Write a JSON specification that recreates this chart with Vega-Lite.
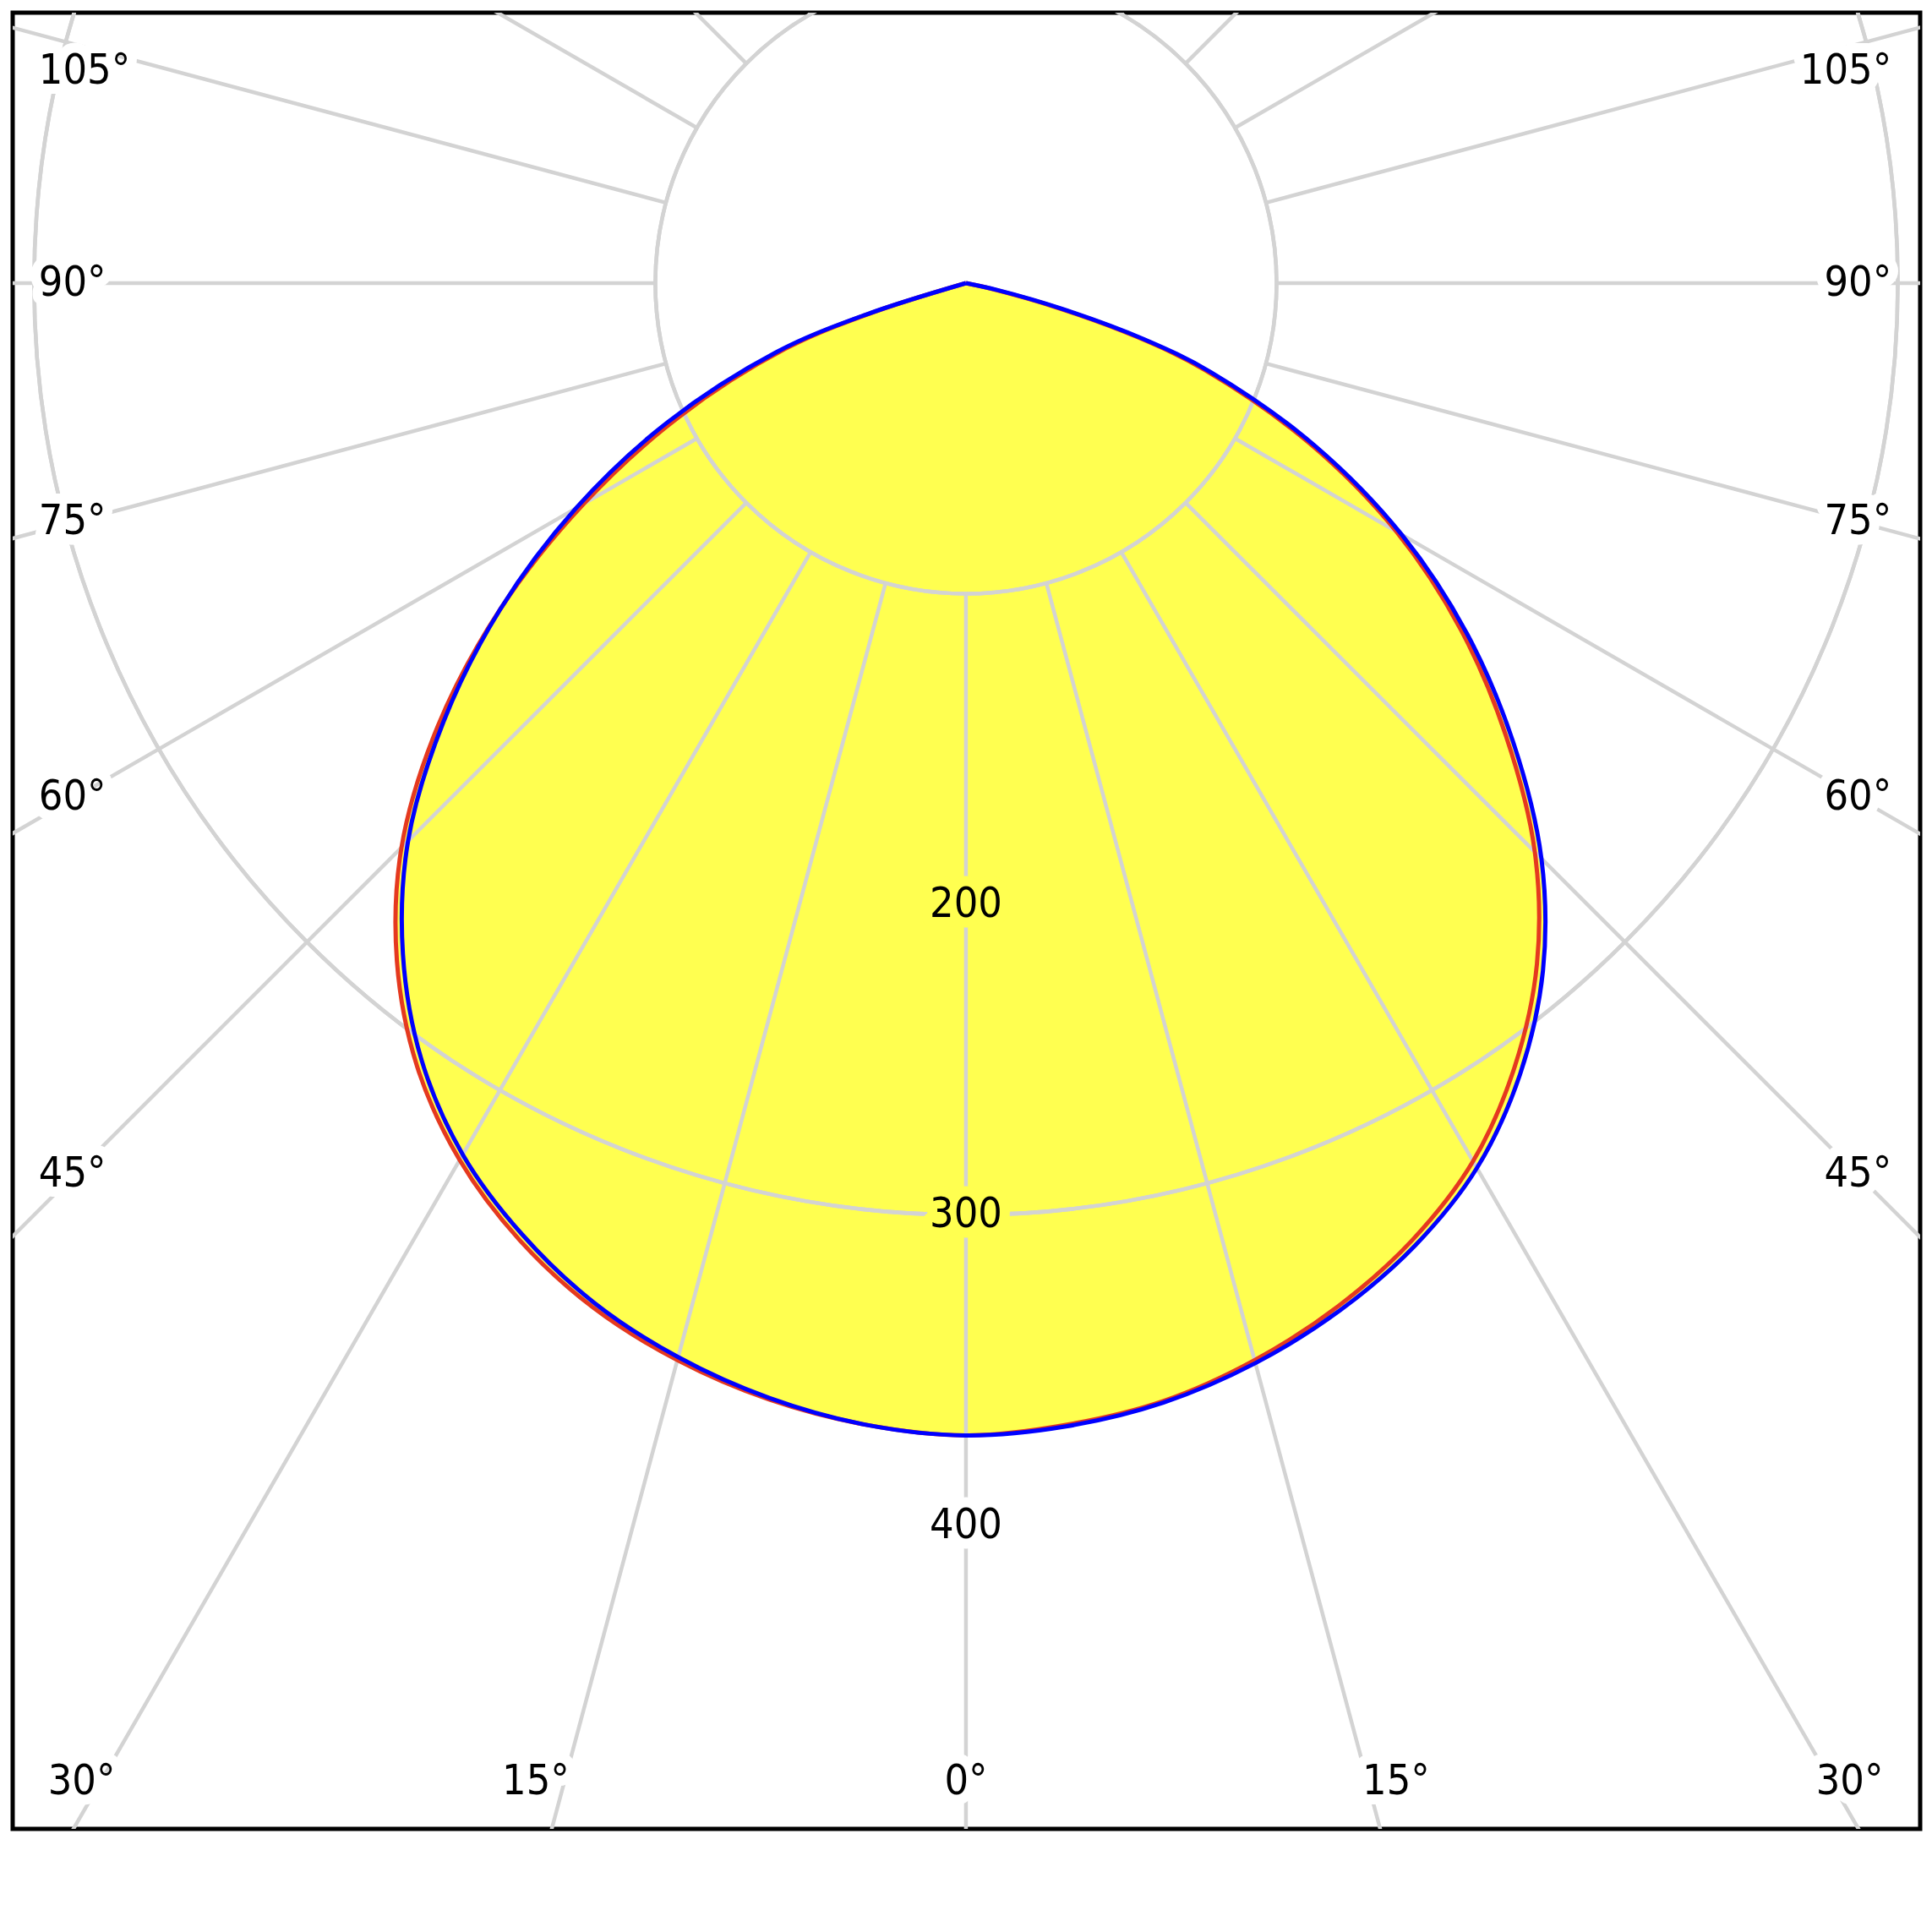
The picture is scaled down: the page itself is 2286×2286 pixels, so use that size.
{
  "$schema": "https://vega.github.io/schema/vega-lite/v6.json",
  "width": 2257,
  "height": 2149,
  "autosize": {"type": "none"},
  "padding": {"left": 15, "top": 15, "right": 14, "bottom": 122},
  "background": "white",
  "config": {
    "view": {"stroke": "#000000", "strokeWidth": 5},
    "style": {"cell": {"stroke": "#000000", "strokeWidth": 5}}
  },
  "datasets": {
    "curves": [
      {"plane": "C0-C180", "gamma": -90, "I": 0},
      {"plane": "C0-C180", "gamma": -85, "I": 0},
      {"plane": "C0-C180", "gamma": -80, "I": 0},
      {"plane": "C0-C180", "gamma": -75, "I": 0},
      {"plane": "C0-C180", "gamma": -72.5, "I": 32},
      {"plane": "C0-C180", "gamma": -70, "I": 62},
      {"plane": "C0-C180", "gamma": -65, "I": 102},
      {"plane": "C0-C180", "gamma": -60, "I": 142},
      {"plane": "C0-C180", "gamma": -55, "I": 183},
      {"plane": "C0-C180", "gamma": -50, "I": 222},
      {"plane": "C0-C180", "gamma": -45, "I": 257},
      {"plane": "C0-C180", "gamma": -40, "I": 285},
      {"plane": "C0-C180", "gamma": -35, "I": 308},
      {"plane": "C0-C180", "gamma": -30, "I": 326},
      {"plane": "C0-C180", "gamma": -25, "I": 340},
      {"plane": "C0-C180", "gamma": -20, "I": 351},
      {"plane": "C0-C180", "gamma": -15, "I": 359},
      {"plane": "C0-C180", "gamma": -10, "I": 365},
      {"plane": "C0-C180", "gamma": -5, "I": 369},
      {"plane": "C0-C180", "gamma": 0, "I": 371},
      {"plane": "C0-C180", "gamma": 5, "I": 369},
      {"plane": "C0-C180", "gamma": 10, "I": 365.5},
      {"plane": "C0-C180", "gamma": 15, "I": 359},
      {"plane": "C0-C180", "gamma": 20, "I": 350.5},
      {"plane": "C0-C180", "gamma": 25, "I": 340},
      {"plane": "C0-C180", "gamma": 30, "I": 326.5},
      {"plane": "C0-C180", "gamma": 35, "I": 308},
      {"plane": "C0-C180", "gamma": 40, "I": 286},
      {"plane": "C0-C180", "gamma": 45, "I": 259},
      {"plane": "C0-C180", "gamma": 50, "I": 227},
      {"plane": "C0-C180", "gamma": 55, "I": 194.5},
      {"plane": "C0-C180", "gamma": 60, "I": 160},
      {"plane": "C0-C180", "gamma": 65, "I": 122},
      {"plane": "C0-C180", "gamma": 70, "I": 82},
      {"plane": "C0-C180", "gamma": 72.5, "I": 58},
      {"plane": "C0-C180", "gamma": 75, "I": 30},
      {"plane": "C0-C180", "gamma": 77.5, "I": 8},
      {"plane": "C0-C180", "gamma": 80, "I": 0},
      {"plane": "C0-C180", "gamma": 85, "I": 0},
      {"plane": "C0-C180", "gamma": 90, "I": 0},
      {"plane": "C90-C270", "gamma": -90, "I": 0},
      {"plane": "C90-C270", "gamma": -85, "I": 0},
      {"plane": "C90-C270", "gamma": -80, "I": 0},
      {"plane": "C90-C270", "gamma": -75, "I": 0},
      {"plane": "C90-C270", "gamma": -72.5, "I": 34},
      {"plane": "C90-C270", "gamma": -70, "I": 65},
      {"plane": "C90-C270", "gamma": -65, "I": 106},
      {"plane": "C90-C270", "gamma": -60, "I": 145},
      {"plane": "C90-C270", "gamma": -55, "I": 183},
      {"plane": "C90-C270", "gamma": -50, "I": 219.5},
      {"plane": "C90-C270", "gamma": -45, "I": 254},
      {"plane": "C90-C270", "gamma": -40, "I": 282},
      {"plane": "C90-C270", "gamma": -35, "I": 305.5},
      {"plane": "C90-C270", "gamma": -30, "I": 324},
      {"plane": "C90-C270", "gamma": -25, "I": 338},
      {"plane": "C90-C270", "gamma": -20, "I": 349.5},
      {"plane": "C90-C270", "gamma": -15, "I": 358},
      {"plane": "C90-C270", "gamma": -10, "I": 364.5},
      {"plane": "C90-C270", "gamma": -5, "I": 369},
      {"plane": "C90-C270", "gamma": 0, "I": 371},
      {"plane": "C90-C270", "gamma": 5, "I": 369.5},
      {"plane": "C90-C270", "gamma": 10, "I": 366},
      {"plane": "C90-C270", "gamma": 15, "I": 360},
      {"plane": "C90-C270", "gamma": 20, "I": 352},
      {"plane": "C90-C270", "gamma": 25, "I": 342},
      {"plane": "C90-C270", "gamma": 30, "I": 329},
      {"plane": "C90-C270", "gamma": 35, "I": 311},
      {"plane": "C90-C270", "gamma": 40, "I": 289},
      {"plane": "C90-C270", "gamma": 45, "I": 262},
      {"plane": "C90-C270", "gamma": 50, "I": 230},
      {"plane": "C90-C270", "gamma": 55, "I": 197},
      {"plane": "C90-C270", "gamma": 60, "I": 162},
      {"plane": "C90-C270", "gamma": 65, "I": 124},
      {"plane": "C90-C270", "gamma": 70, "I": 84},
      {"plane": "C90-C270", "gamma": 72.5, "I": 60},
      {"plane": "C90-C270", "gamma": 75, "I": 32},
      {"plane": "C90-C270", "gamma": 77.5, "I": 10},
      {"plane": "C90-C270", "gamma": 80, "I": 0},
      {"plane": "C90-C270", "gamma": 85, "I": 0},
      {"plane": "C90-C270", "gamma": 90, "I": 0}
    ],
    "circles": [{"r": 100}, {"r": 200}, {"r": 300}, {"r": 400}, {"r": 500}],
    "spokes": [
      {"angle": 0}, {"angle": 15}, {"angle": 30}, {"angle": 45}, {"angle": 60}, {"angle": 75},
      {"angle": 90}, {"angle": 105}, {"angle": 120}, {"angle": 135}, {"angle": 150}, {"angle": 165},
      {"angle": 180}, {"angle": 195}, {"angle": 210}, {"angle": 225}, {"angle": 240}, {"angle": 255},
      {"angle": 270}, {"angle": 285}, {"angle": 300}, {"angle": 315}, {"angle": 330}, {"angle": 345}
    ],
    "labels": [
      {"text": "105°", "x": -298.5, "y": 68.3, "pos": "left"},
      {"text": "90°", "x": -298.5, "y": 0, "pos": "left"},
      {"text": "75°", "x": -298.5, "y": -76.7, "pos": "left"},
      {"text": "60°", "x": -298.5, "y": -165.5, "pos": "left"},
      {"text": "45°", "x": -298.5, "y": -286.9, "pos": "left"},
      {"text": "105°", "x": 298.0, "y": 68.3, "pos": "right"},
      {"text": "90°", "x": 298.0, "y": 0, "pos": "right"},
      {"text": "75°", "x": 298.0, "y": -76.7, "pos": "right"},
      {"text": "60°", "x": 298.0, "y": -165.5, "pos": "right"},
      {"text": "45°", "x": 298.0, "y": -286.9, "pos": "right"},
      {"text": "30°", "x": -284.7, "y": -482.5, "pos": "bottom"},
      {"text": "15°", "x": -138.5, "y": -482.5, "pos": "bottom"},
      {"text": "0°", "x": 0, "y": -482.5, "pos": "bottom"},
      {"text": "15°", "x": 138.5, "y": -482.5, "pos": "bottom"},
      {"text": "30°", "x": 284.5, "y": -482.5, "pos": "bottom"},
      {"text": "200", "x": 0, "y": -200, "pos": "inner"},
      {"text": "300", "x": 0, "y": -300, "pos": "inner"},
      {"text": "400", "x": 0, "y": -400, "pos": "bottom"}
    ]
  },
  "layer": [
    {
      "data": {"name": "curves"},
      "transform": [
        {"calculate": "datum.I * sin(datum.gamma * PI / 180)", "as": "x"},
        {"calculate": "-datum.I * cos(datum.gamma * PI / 180)", "as": "y"}
      ],
      "mark": {"type": "line", "interpolate": "catmull-rom", "fill": "#ffff50", "stroke": "#ffff50", "strokeWidth": 1, "clip": true},
      "encoding": {
        "x": {"field": "x", "type": "quantitative", "scale": {"domain": [-306.9, 307.2], "nice": false, "zero": false}, "axis": null},
        "y": {"field": "y", "type": "quantitative", "scale": {"domain": [-497.7, 87.07], "nice": false, "zero": false}, "axis": null},
        "detail": {"field": "plane", "type": "nominal"},
        "order": {"field": "gamma", "type": "quantitative"}
      }
    },
    {
      "data": {"name": "circles"},
      "mark": {"type": "arc", "filled": false, "stroke": "#d3d3d3", "strokeWidth": 4.5, "theta": 0, "theta2": 6.2832, "clip": true},
      "encoding": {
        "x": {"datum": 0, "type": "quantitative"},
        "y": {"datum": 0, "type": "quantitative"},
        "radius": {"field": "r", "type": "quantitative", "scale": {"type": "linear", "domain": [0, 614.1], "range": [0, 2257], "zero": true}, "legend": null}
      }
    },
    {
      "data": {"name": "spokes"},
      "transform": [
        {"calculate": "100 * sin(datum.angle * PI / 180)", "as": "xa"},
        {"calculate": "-100 * cos(datum.angle * PI / 180)", "as": "ya"},
        {"calculate": "900 * sin(datum.angle * PI / 180)", "as": "xb"},
        {"calculate": "-900 * cos(datum.angle * PI / 180)", "as": "yb"}
      ],
      "mark": {"type": "rule", "stroke": "#d3d3d3", "strokeWidth": 4.5, "clip": true},
      "encoding": {
        "x": {"field": "xa", "type": "quantitative"},
        "y": {"field": "ya", "type": "quantitative"},
        "x2": {"field": "xb"},
        "y2": {"field": "yb"}
      }
    },
    {
      "data": {"name": "curves"},
      "transform": [
        {"calculate": "datum.I * sin(datum.gamma * PI / 180)", "as": "x"},
        {"calculate": "-datum.I * cos(datum.gamma * PI / 180)", "as": "y"}
      ],
      "mark": {"type": "line", "interpolate": "catmull-rom", "strokeWidth": 5, "clip": true},
      "encoding": {
        "x": {"field": "x", "type": "quantitative"},
        "y": {"field": "y", "type": "quantitative"},
        "color": {"field": "plane", "type": "nominal", "scale": {"domain": ["C0-C180", "C90-C270"], "range": ["#e5391f", "#0000ff"]}, "legend": null},
        "order": {"field": "gamma", "type": "quantitative"}
      }
    },
    {
      "data": {"name": "labels"},
      "transform": [{"filter": "datum.pos == 'left'"}],
      "mark": {"type": "text", "align": "left", "baseline": "middle", "font": "DejaVu Sans Condensed, DejaVu Sans, sans-serif", "fontSize": 50, "fill": "white", "stroke": "white", "strokeWidth": 24, "strokeJoin": "round"},
      "encoding": {"x": {"field": "x", "type": "quantitative"}, "y": {"field": "y", "type": "quantitative"}, "text": {"field": "text"}}
    },
    {
      "data": {"name": "labels"},
      "transform": [{"filter": "datum.pos == 'right'"}],
      "mark": {"type": "text", "align": "right", "baseline": "middle", "font": "DejaVu Sans Condensed, DejaVu Sans, sans-serif", "fontSize": 50, "fill": "white", "stroke": "white", "strokeWidth": 24, "strokeJoin": "round"},
      "encoding": {"x": {"field": "x", "type": "quantitative"}, "y": {"field": "y", "type": "quantitative"}, "text": {"field": "text"}}
    },
    {
      "data": {"name": "labels"},
      "transform": [{"filter": "datum.pos == 'bottom'"}],
      "mark": {"type": "text", "align": "center", "baseline": "middle", "font": "DejaVu Sans Condensed, DejaVu Sans, sans-serif", "fontSize": 50, "fill": "white", "stroke": "white", "strokeWidth": 24, "strokeJoin": "round"},
      "encoding": {"x": {"field": "x", "type": "quantitative"}, "y": {"field": "y", "type": "quantitative"}, "text": {"field": "text"}}
    },
    {
      "data": {"name": "labels"},
      "transform": [{"filter": "datum.pos == 'inner'"}],
      "mark": {"type": "text", "align": "center", "baseline": "middle", "font": "DejaVu Sans Condensed, DejaVu Sans, sans-serif", "fontSize": 50, "fill": "#ffff50", "stroke": "#ffff50", "strokeWidth": 24, "strokeJoin": "round"},
      "encoding": {"x": {"field": "x", "type": "quantitative"}, "y": {"field": "y", "type": "quantitative"}, "text": {"field": "text"}}
    },
    {
      "data": {"name": "labels"},
      "transform": [{"filter": "datum.pos == 'left'"}],
      "mark": {"type": "text", "align": "left", "baseline": "middle", "font": "DejaVu Sans Condensed, DejaVu Sans, sans-serif", "fontSize": 50, "fill": "black"},
      "encoding": {"x": {"field": "x", "type": "quantitative"}, "y": {"field": "y", "type": "quantitative"}, "text": {"field": "text"}}
    },
    {
      "data": {"name": "labels"},
      "transform": [{"filter": "datum.pos == 'right'"}],
      "mark": {"type": "text", "align": "right", "baseline": "middle", "font": "DejaVu Sans Condensed, DejaVu Sans, sans-serif", "fontSize": 50, "fill": "black"},
      "encoding": {"x": {"field": "x", "type": "quantitative"}, "y": {"field": "y", "type": "quantitative"}, "text": {"field": "text"}}
    },
    {
      "data": {"name": "labels"},
      "transform": [{"filter": "datum.pos == 'bottom' || datum.pos == 'inner'"}],
      "mark": {"type": "text", "align": "center", "baseline": "middle", "font": "DejaVu Sans Condensed, DejaVu Sans, sans-serif", "fontSize": 50, "fill": "black"},
      "encoding": {"x": {"field": "x", "type": "quantitative"}, "y": {"field": "y", "type": "quantitative"}, "text": {"field": "text"}}
    }
  ]
}
